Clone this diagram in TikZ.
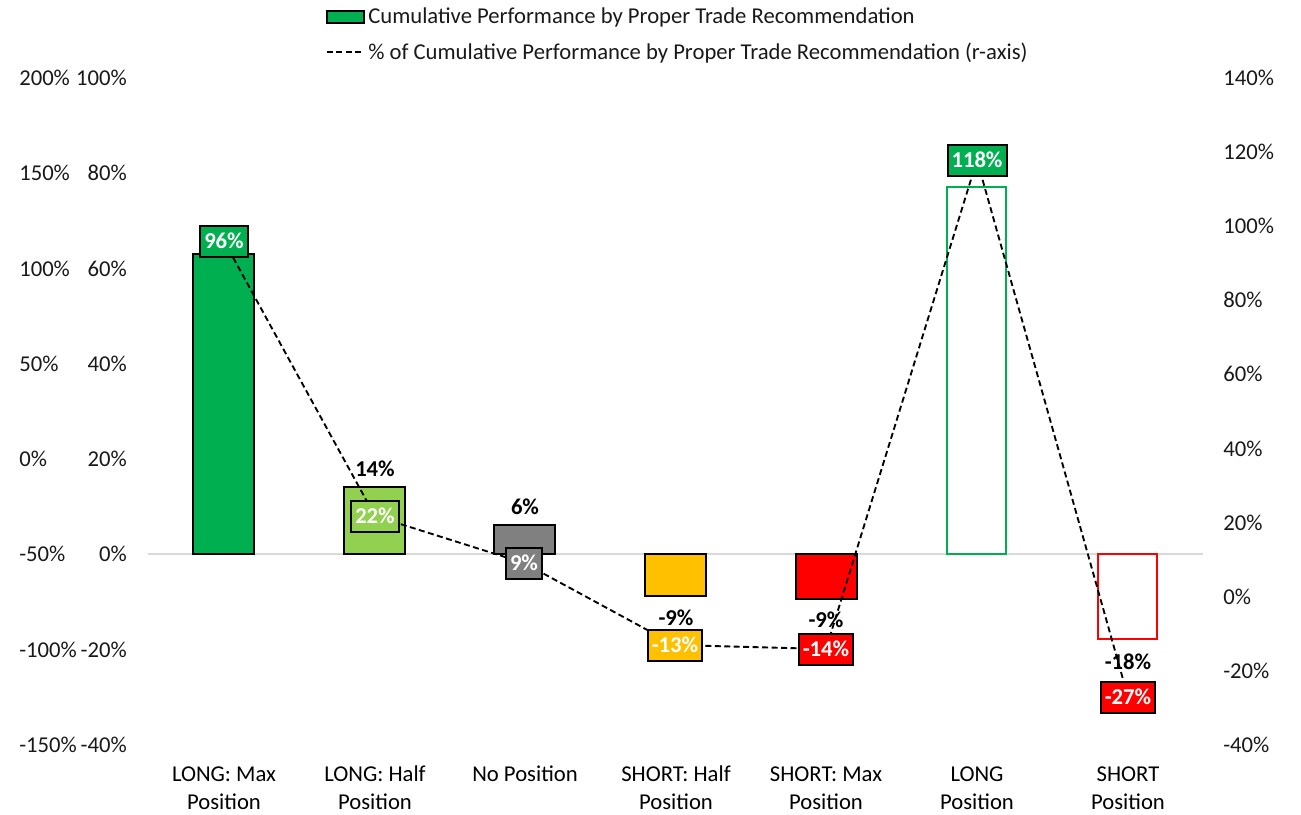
\documentclass[tikz,border=0pt]{standalone}
\usepackage{fontspec}
\setmainfont{Carlito}
\pgfdeclarelayer{bg}
\pgfsetlayers{bg,main}
\definecolor{cgreen}{HTML}{00B050}
\definecolor{clight}{HTML}{92D050}
\definecolor{cgray}{HTML}{808080}
\definecolor{corange}{HTML}{FFC000}
\definecolor{cred}{HTML}{FF0000}
\definecolor{cbase}{HTML}{D9D9D9}
\begin{document}
\begin{tikzpicture}[x=0.75pt,y=-0.75pt,
  font=\fontsize{17}{20}\selectfont,
  ax/.style={inner sep=0pt, text=black!90},
  vbox/.style={draw=black, line width=1.5pt, text=white,
    font=\fontsize{17}{20}\selectfont\bfseries,
    inner xsep=3pt, inner ysep=0pt, minimum height=23.25pt,
    text height=11.2pt, text depth=0pt},
  blab/.style={inner sep=0pt, font=\fontsize{17}{20}\selectfont\bfseries},
  bar/.style={draw=black, line width=1.1pt},
  hollow/.style={fill=white, line width=2pt},
  trend/.style={black, line width=1.4pt, dash pattern=on 4.5pt off 2.6pt},
  cat/.style={inner sep=0pt, anchor=base}]
\useasboundingbox (0,0) rectangle (1301,814);

% legend
\filldraw[fill=cgreen, draw=black, line width=1.1pt] (327,11) rectangle (364,23);
\node[ax, anchor=west] (leg1) at (368,17) {Cumulative Performance by Proper Trade Recommendation};
\coordinate (lgA) at (327,52);
\coordinate (lgB) at (364,52);
\draw[trend] (lgA) -- (lgB);
\node[ax, anchor=west] (leg2) at (368,53) {\% of Cumulative Performance by Proper Trade Recommendation (r-axis)};

% left axes
\foreach \k/\o/\i in {0/200/100,1/150/80,2/100/60,3/50/40,4/0/20,5/-50/0,6/-100/-20,7/-150/-40}{
  \node[ax, anchor=west] (lo\k) at (19,{78+95.25*\k}) {\o\%};
  \node[ax, anchor=east] (li\k) at (127,{78+95.25*\k}) {\i\%};
}
% right axis
\foreach \k/\r in {0/140,1/120,2/100,3/80,4/60,5/40,6/20,7/0,8/-20,9/-40}{
  \node[ax, anchor=west] (ro\k) at (1223,{78+74.08*\k}) {\r\%};
}

\begin{pgfonlayer}{bg}
\draw[cbase, line width=1.2pt] (148,554) -- (1203,554);
\filldraw[bar, fill=cgreen] (193,554) rectangle (254,254);
\filldraw[bar, fill=clight] (344,554) rectangle (405,487);
\filldraw[bar, fill=cgray] (494,554) rectangle (555,525);
\filldraw[bar, fill=corange] (645,554) rectangle (706,596);
\filldraw[bar, fill=cred] (796,554) rectangle (857,599);
\draw[hollow, draw=cgreen] (947,554) rectangle (1006,187);
\draw[hollow, draw=cred] (1098,554) rectangle (1157,639);
\end{pgfonlayer}

% bar value labels
\node[blab] (b2) at (375,469) {14\%};
\node[blab] (b3) at (525,507) {6\%};
\node[blab] (b4) at (676,618) {-9\%};
\node[blab] (b5) at (826,620) {-9\%};
\node[blab] (b7) at (1128,662) {-18\%};

% line value boxes
\node[vbox, fill=cgreen] (p1) at (224,241) {96\%};
\node[vbox, fill=clight] (p2) at (375,516) {22\%};
\node[vbox, fill=cgray] (p3) at (524,563) {9\%};
\node[vbox, fill=corange] (p4) at (675,645) {-13\%};
\node[vbox, fill=cred] (p5) at (826,649) {-14\%};
\node[vbox, fill=cgreen] (p6) at (977,160) {118\%};
\node[vbox, fill=cred] (p7) at (1128,697) {-27\%};

\begin{pgfonlayer}{bg}
\draw[trend] (p1.center) -- (p2.center) -- (p3.center) -- (p4.center) -- (p5.center) -- (p6.center) -- (p7.center);
\end{pgfonlayer}

% categories
\node[cat] (c1a) at (224,781) {LONG: Max};
\node[cat] (c1b) at (224,809) {Position};
\node[cat] (c2a) at (375,781) {LONG: Half};
\node[cat] (c2b) at (375,809) {Position};
\node[cat] (c3a) at (525,781) {No Position};
\node[cat] (c4a) at (676,781) {SHORT: Half};
\node[cat] (c4b) at (676,809) {Position};
\node[cat] (c5a) at (826,781) {SHORT: Max};
\node[cat] (c5b) at (826,809) {Position};
\node[cat] (c6a) at (977,781) {LONG};
\node[cat] (c6b) at (977,809) {Position};
\node[cat] (c7a) at (1128,781) {SHORT};
\node[cat] (c7b) at (1128,809) {Position};
\end{tikzpicture}
\end{document}
